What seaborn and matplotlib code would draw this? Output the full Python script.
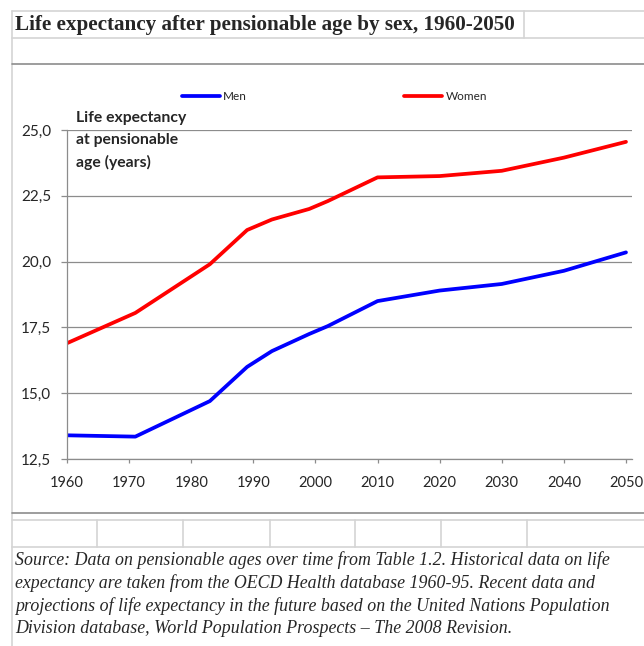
import pandas as pd
import seaborn as sns
import matplotlib.pyplot as plt
from matplotlib.lines import Line2D
from matplotlib.ticker import FuncFormatter

# Data
years = [1960, 1971, 1983, 1989, 1993, 1999, 2002, 2010, 2020, 2030, 2040, 2050]
men = [13.4, 13.35, 14.7, 16.0, 16.6, 17.25, 17.55, 18.5, 18.9, 19.15, 19.65, 20.35]
women = [16.9, 18.05, 19.9, 21.2, 21.6, 22.0, 22.3, 23.2, 23.25, 23.45, 23.95, 24.55]
x_ticks = [1960, 1970, 1980, 1990, 2000, 2010, 2020, 2030, 2040, 2050]
y_ticks = [12.5, 15.0, 17.5, 20.0, 22.5, 25.0]

title = "Life expectancy after pensionable age by sex, 1960-2050"
y_label = "Life expectancy\nat pensionable\nage (years)"
source = ("Source: Data on pensionable ages over time from Table 1.2. Historical data on life\n"
          "expectancy are taken from the OECD Health database 1960-95. Recent data and\n"
          "projections of life expectancy in the future based on the United Nations Population\n"
          "Division database, World Population Prospects \u2013 The 2008 Revision.")

df = pd.DataFrame({
    "year": years * 2,
    "value": men + women,
    "sex": ["Men"] * len(years) + ["Women"] * len(years),
})

sns.set_style("white")
plt.rcParams["font.family"] = ["Lato", "DejaVu Sans"]

W, H = 644, 646
fig = plt.figure(figsize=(W / 100, H / 100), dpi=100)


def px(x, y):
    return x / W, 1 - y / H


def hline(y, x0, x1, color="#d4d4d4", lw=1.2):
    fig.add_artist(Line2D([x0 / W, x1 / W], [1 - y / H] * 2, color=color, lw=lw,
                          transform=fig.transFigure))


def vline(x, y0, y1, color="#d4d4d4", lw=1.2):
    fig.add_artist(Line2D([x / W] * 2, [1 - y0 / H, 1 - y1 / H], color=color, lw=lw,
                          transform=fig.transFigure))


# spreadsheet cell borders around the chart
hline(11, 12, W)
hline(38, 12, W)
vline(12, 11, H)
vline(524, 11, 38)
hline(64, 12, W, color="#8c8c8c")
hline(513, 12, W, color="#8c8c8c")
hline(520, 12, W)
hline(547, 12, W)
for xv in [97, 183, 270, 355, 441, 527]:
    vline(xv, 520, 547)

fig.text(*px(15, 25), title, family="Liberation Serif", weight="bold", fontsize=15.2,
         va="center", ha="left")
fig.text(*px(15, 551), source, family="Liberation Serif", style="italic", fontsize=12.9,
         va="top", ha="left", linespacing=1.38)

left, right, top, bottom = 67, 632, 130, 459
ax = fig.add_axes([left / W, 1 - bottom / H, (right - left) / W, (bottom - top) / H])

sns.lineplot(data=df, x="year", y="value", hue="sex", ax=ax, lw=2.7,
             palette={"Men": "#0000ff", "Women": "#ff0000"}, legend=False)

ax.set_xlim(1960, 2050.97)
ax.set_ylim(12.5, 25.0)
ax.set_xticks(x_ticks)
ax.set_yticks(y_ticks)
ax.yaxis.set_major_formatter(FuncFormatter(lambda v, p: f"{v:.1f}".replace(".", ",")))
ax.set_xlabel("")
ax.set_ylabel("")
ax.grid(axis="y", color="#8c8c8c", lw=0.9)
ax.grid(axis="x", visible=False)
for s in ["top", "right"]:
    ax.spines[s].set_visible(False)
for s in ["left", "bottom"]:
    ax.spines[s].set_color("#8c8c8c")
    ax.spines[s].set_linewidth(0.9)
ax.tick_params(axis="y", direction="out", length=4.5, width=0.9, color="#8c8c8c",
               labelsize=11, pad=7, left=True)
ax.tick_params(axis="x", direction="out", length=3, width=0.9, color="#8c8c8c",
               labelsize=10.5, pad=9, bottom=True)

fig.text(*px(76, 111), y_label, weight="bold", fontsize=11.3, va="top", ha="left",
         linespacing=1.7)

handles = [Line2D([], [], color="#0000ff", lw=2.7), Line2D([], [], color="#ff0000", lw=2.7)]
fig.legend(handles, ["Men", "Women"], loc="center left", bbox_to_anchor=px(182, 97),
           ncol=2, frameon=False, fontsize=8.5, handlelength=3.2, handletextpad=0.3,
           columnspacing=13.3, borderaxespad=0, borderpad=0)

fig.savefig("out.png", dpi=100)
